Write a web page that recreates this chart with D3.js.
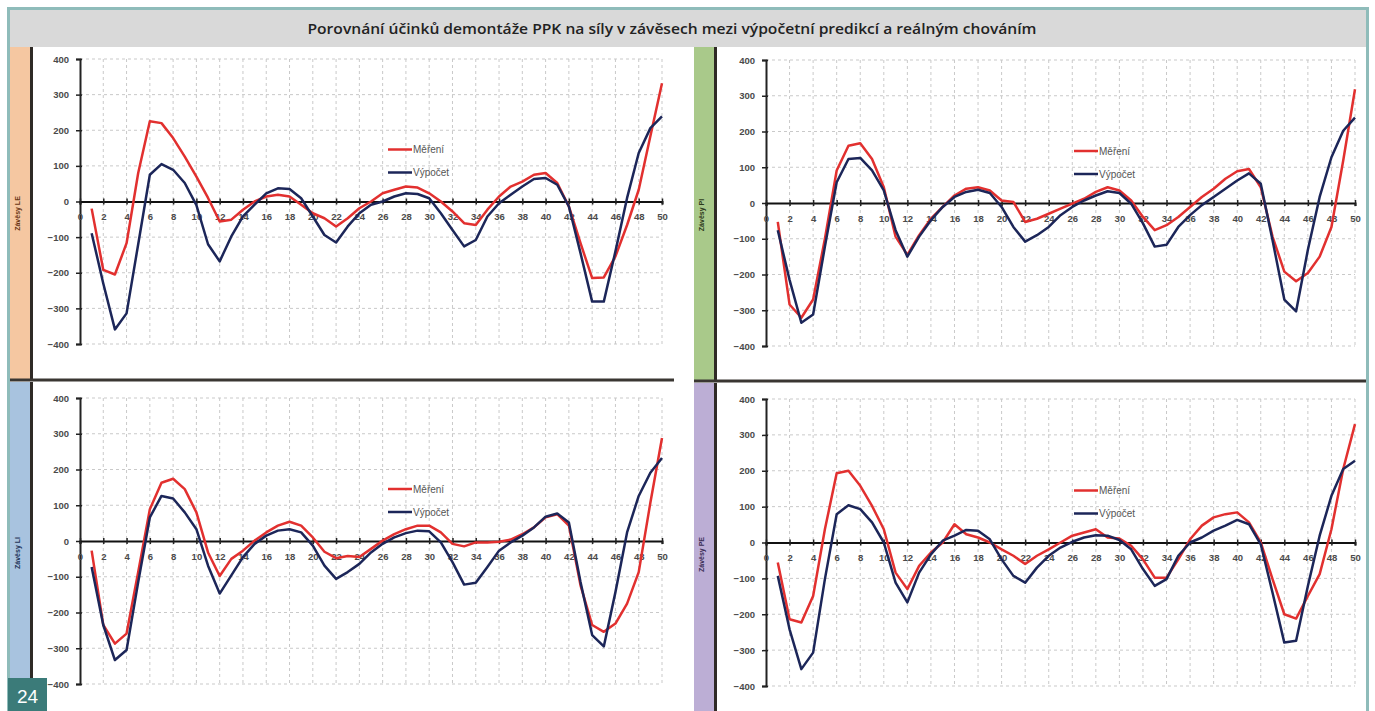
<!DOCTYPE html>
<html><head><meta charset="utf-8">
<script src="https://cdn.jsdelivr.net/npm/d3@7"></script>
<style>body{margin:0;background:#fff}svg{display:block}</style>
</head><body>
<script>
// ---------- DATA ----------
const chartTitle = "Porovnání účinků demontáže PPK na síly v závěsech mezi výpočetní predikcí a reálným chováním";
const seriesNames = ["Měření", "Výpočet"];
const panelNames = ["Závěsy LE", "Závěsy PI", "Závěsy LI", "Závěsy PE"];
const categories = [1,2,3,4,5,6,7,8,9,10,11,12,13,14,15,16,17,18,19,20,21,22,23,24,25,26,27,28,29,30,31,32,33,34,35,36,37,38,39,40,41,42,43,44,45,46,47,48,49,50];
const xTickLabels = [0,2,4,6,8,10,12,14,16,18,20,22,24,26,28,30,32,34,36,38,40,42,44,46,48,50];
const yTickLabels = [-400,-300,-200,-100,0,100,200,300,400];

const leMereni = [-20,-192,-205,-117,80,225,220,178,126,70,10,-56,-51,-23,0,14,19,14,-9,-33,-47,-70,-47,-19,0,23,33,42,39,23,0,-28,-61,-66,-23,14,42,56,75,80,52,-14,-117,-215,-213,-154,-66,33,183,332];
const leVypocet = [-89,-230,-359,-314,-120,75,105,89,52,-10,-120,-168,-98,-42,-9,23,37,35,9,-42,-94,-115,-70,-33,-9,0,14,23,21,9,-33,-80,-126,-108,-42,-5,19,42,63,66,47,-14,-145,-281,-281,-140,10,136,206,239];
const piMereni = [-53,-284,-321,-270,-100,91,160,167,123,44,-94,-145,-90,-44,-11,21,40,44,35,7,3,-53,-44,-30,-16,-2,12,31,44,35,7,-39,-76,-62,-39,-11,17,40,68,89,95,44,-94,-192,-219,-196,-150,-67,119,318];
const piVypocet = [-76,-215,-335,-312,-122,58,123,126,91,35,-76,-150,-94,-48,-11,17,31,37,28,-11,-67,-108,-90,-67,-34,-11,7,21,33,28,-2,-57,-122,-117,-67,-34,-6,17,40,63,83,54,-104,-270,-303,-131,17,128,202,239];
const liMereni = [-27,-235,-287,-259,-87,89,163,174,145,80,-32,-98,-50,-27,1,24,43,54,43,10,-30,-48,-42,-45,-22,1,19,33,43,43,24,-8,-15,-4,-4,-2,4,19,38,66,75,43,-124,-235,-254,-231,-175,-87,107,288];
const liVypocet = [-73,-235,-333,-305,-115,66,126,119,80,33,-69,-147,-96,-45,-8,15,29,33,24,-13,-69,-106,-87,-64,-32,-8,10,22,29,27,-4,-59,-122,-117,-73,-27,-4,15,38,68,77,52,-115,-263,-295,-143,24,126,191,232];
const peMereni = [-56,-214,-223,-149,37,193,200,158,102,37,-84,-130,-65,-28,0,51,23,14,0,-19,-37,-60,-37,-19,0,19,28,37,14,11,-9,-47,-98,-98,-47,9,47,70,79,84,56,0,-102,-200,-212,-149,-88,37,205,330];
const peVypocet = [-93,-242,-353,-307,-102,79,104,93,56,0,-112,-167,-84,-33,5,19,35,33,9,-47,-93,-112,-70,-37,-14,2,14,20,19,7,-19,-74,-121,-102,-37,0,14,33,47,63,51,-5,-140,-279,-274,-121,19,130,205,228];

// ---------- LAYOUT ----------
const W = 1375, H = 711;
const colors = {mereni: "#e2302f", vypocet: "#1c2659"};
const panels = [
  {name: panelNames[0], m: leMereni, v: leVypocet, x0: 80, x1: 662, yTop: 59, yBot: 344,
   strip: {x: 10, y: 47, w: 20, h: 332, fill: "#f5c7a1", text: "#6a3514"}, lx: 17},
  {name: panelNames[1], m: piMereni, v: piVypocet, x0: 766, x1: 1355, yTop: 60, yBot: 346,
   strip: {x: 694, y: 47, w: 20, h: 333, fill: "#a9c98a", text: "#2d3a1a"}, lx: 701},
  {name: panelNames[2], m: liMereni, v: liVypocet, x0: 80, x1: 662, yTop: 398, yBot: 684,
   strip: {x: 10, y: 382, w: 20, h: 329, fill: "#a8c3df", text: "#1e3358"}, lx: 17},
  {name: panelNames[3], m: peMereni, v: peVypocet, x0: 766, x1: 1355, yTop: 399, yBot: 686,
   strip: {x: 694, y: 383, w: 20, h: 328, fill: "#bcaed5", text: "#3a2d55"}, lx: 701}
];

const svg = d3.select("body").append("svg").attr("width", W).attr("height", H);
svg.append("rect").attr("width", W).attr("height", H).attr("fill", "#fff");

// outer teal frame
svg.append("rect").attr("x", 8.5).attr("y", 8.5).attr("width", 1359).attr("height", 710)
  .attr("fill", "none").attr("stroke", "#8fbcba").attr("stroke-width", 3);
// title bar
svg.append("rect").attr("x", 10).attr("y", 10).attr("width", 1356).attr("height", 37).attr("fill", "#d9d9d9");
svg.append("text").attr("x", 672).attr("y", 34).attr("text-anchor", "middle")
  .attr("font-family", "'Open Sans', 'Liberation Sans', sans-serif").attr("font-weight", 600)
  .attr("font-size", 14).attr("fill", "#222").attr("textLength", 729).attr("lengthAdjust", "spacingAndGlyphs")
  .text(chartTitle);

// strips + separators
panels.forEach(p => {
  const s = p.strip;
  svg.append("rect").attr("x", s.x).attr("y", s.y).attr("width", s.w).attr("height", s.h).attr("fill", s.fill);
  svg.append("line").attr("x1", s.x + s.w + 1.5).attr("x2", s.x + s.w + 1.5).attr("y1", s.y).attr("y2", s.y + s.h)
    .attr("stroke", "#2f2a26").attr("stroke-width", 3);
  svg.append("text").attr("transform", `translate(${p.lx + 3},${(p.yTop + p.yBot) / 2 + 12}) rotate(-90)`)
    .attr("text-anchor", "middle").attr("font-family", "'Liberation Sans', Arial, sans-serif")
    .attr("font-weight", "bold").attr("font-size", 7).attr("fill", s.text).text(p.name);
});
// horizontal separators between rows
svg.append("line").attr("x1", 10).attr("x2", 674).attr("y1", 380).attr("y2", 380).attr("stroke", "#3a3632").attr("stroke-width", 3);
svg.append("line").attr("x1", 694).attr("x2", 1366).attr("y1", 381).attr("y2", 381).attr("stroke", "#3a3632").attr("stroke-width", 3);

// panels
panels.forEach(p => {
  const x = d3.scaleLinear().domain([0, 50]).range([p.x0, p.x1]);
  const y = d3.scaleLinear().domain([-400, 400]).range([p.yBot, p.yTop]);
  const g = svg.append("g");

  // grid
  g.append("g").selectAll("line").data(yTickLabels.filter(v => v !== 0)).join("line")
    .attr("x1", x(0)).attr("x2", x(50)).attr("y1", d => y(d)).attr("y2", d => y(d))
    .attr("stroke", "#c9c9c9").attr("stroke-width", 1).attr("stroke-dasharray", "3,3");
  g.append("g").selectAll("line").data(xTickLabels.filter(v => v !== 0)).join("line")
    .attr("x1", d => x(d)).attr("x2", d => x(d)).attr("y1", y(400)).attr("y2", y(-400))
    .attr("stroke", "#c9c9c9").attr("stroke-width", 1).attr("stroke-dasharray", "3,3");

  // y axis
  const yAxis = d3.axisLeft(y).tickValues(yTickLabels).tickSize(4).tickPadding(7).tickFormat(d3.format("d"));
  const ya = g.append("g").attr("transform", `translate(${x(0)},0)`).call(yAxis);
  ya.select(".domain").attr("stroke", "#222").attr("stroke-width", 2);
  ya.selectAll(".tick line").attr("stroke", "#222").attr("stroke-width", 1.5).attr("x2", -4).attr("x1", 2);
  ya.selectAll("text").attr("font-family", "'Liberation Sans', Arial, sans-serif").attr("font-size", 9.5)
    .attr("font-weight", "bold").attr("fill", "#4a4a4a");

  // x axis at zero
  const xAxis = d3.axisBottom(x).tickValues(xTickLabels).tickSize(3).tickPadding(9).tickFormat(d3.format("d"));
  const xa = g.append("g").attr("transform", `translate(0,${y(0)})`).call(xAxis);
  xa.select(".domain").attr("stroke", "#111").attr("stroke-width", 2);
  xa.selectAll(".tick line").attr("stroke", "#222").attr("stroke-width", 1.5).attr("y1", -3).attr("y2", 3);
  xa.selectAll("text").attr("font-family", "'Liberation Sans', Arial, sans-serif").attr("font-size", 9.5)
    .attr("font-weight", "bold").attr("fill", "#4a4a4a");

  // lines
  const line = d3.line().x((d, i) => x(categories[i])).y(d => y(d));
  g.append("path").datum(p.m).attr("d", line).attr("fill", "none")
    .attr("stroke", colors.mereni).attr("stroke-width", 2.5).attr("stroke-linejoin", "round");
  g.append("path").datum(p.v).attr("d", line).attr("fill", "none")
    .attr("stroke", colors.vypocet).attr("stroke-width", 2.5).attr("stroke-linejoin", "round");

  // legend
  const lx = x(0) + 308, ly = y(0) - 52;
  [[seriesNames[0], colors.mereni, 0], [seriesNames[1], colors.vypocet, 23]].forEach(([t, c, dy]) => {
    g.append("line").attr("x1", lx).attr("x2", lx + 24).attr("y1", ly + dy).attr("y2", ly + dy)
      .attr("stroke", c).attr("stroke-width", 2.5);
    g.append("text").attr("x", lx + 25).attr("y", ly + dy + 3.5)
      .attr("font-family", "'Liberation Sans', Arial, sans-serif").attr("font-size", 10)
      .attr("fill", "#555").text(t);
  });
});

// page number badge
svg.append("rect").attr("x", 8).attr("y", 678).attr("width", 39).attr("height", 33).attr("fill", "#3b7b79");
svg.append("text").attr("x", 27.5).attr("y", 703).attr("text-anchor", "middle")
  .attr("font-family", "'Liberation Sans', Arial, sans-serif").attr("font-size", 19).attr("fill", "#fff").text("24");
</script>
</body></html>
